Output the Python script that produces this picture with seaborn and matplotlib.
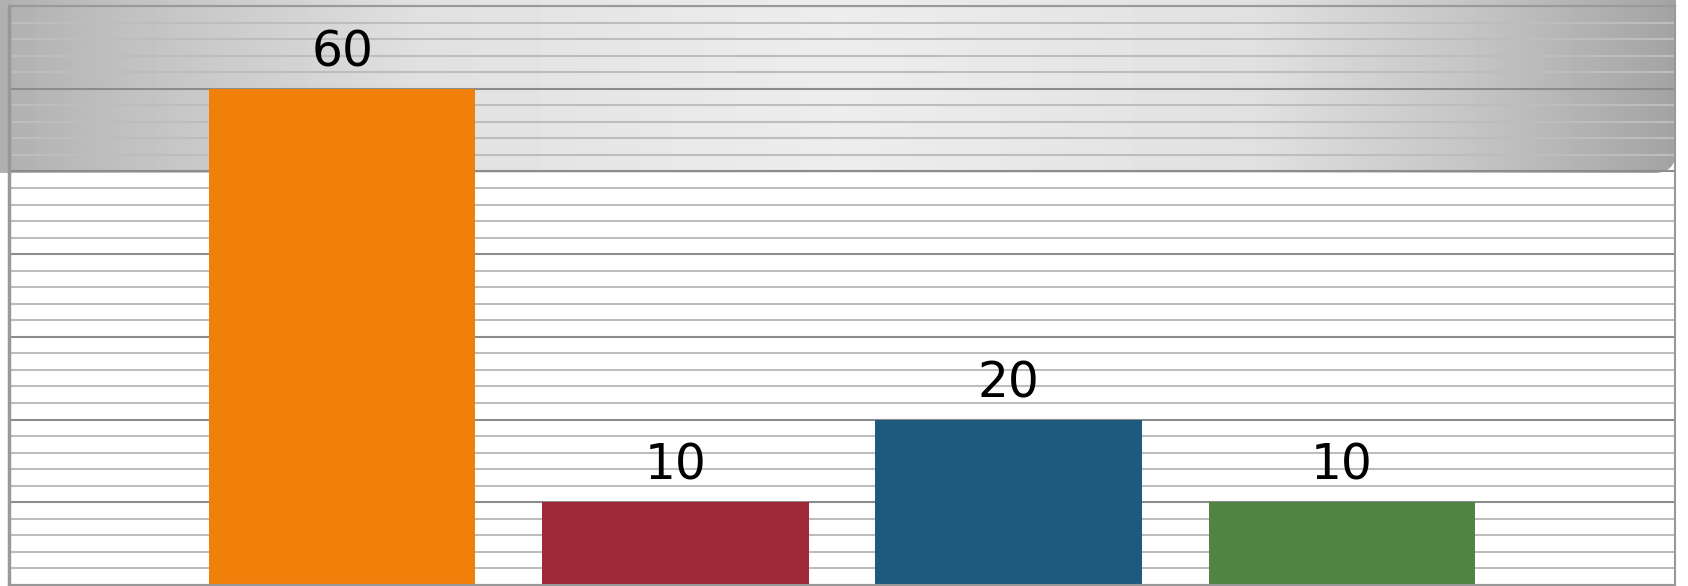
import numpy as np
import matplotlib.pyplot as plt
import seaborn as sns
from matplotlib.path import Path
from matplotlib.patches import PathPatch
from matplotlib.ticker import MultipleLocator

sns.set_theme(style='white')
plt.rcParams['font.family'] = ['DejaVu Sans']

# Data
categories = ['A', 'B', 'C', 'D']
values = [60, 10, 20, 10]
colors = ['#F0800A', '#9F2836', '#1E5A7D', '#4F8442']

W, H = 1688, 586
fig = plt.figure(figsize=(W / 100, H / 100), dpi=100)
fig.patch.set_facecolor('white')

# Background axes in pixel coordinates for the grey gradient band
bg = fig.add_axes([0, 0, 1, 1], zorder=0)
bg.set_xlim(0, W)
bg.set_ylim(H, 0)
bg.axis('off')

band_right, band_bottom, r = 1676, 173, 22
xs = np.linspace(0, 1, 400)
stops = [0.0, 0.08, 0.25, 0.5, 0.75, 0.88, 1.0]
levels = [0.69, 0.76, 0.88, 0.93, 0.88, 0.77, 0.64]
grad = np.interp(xs, stops, levels)
img = np.tile(grad, (10, 1))
im = bg.imshow(img, cmap='gray', vmin=0, vmax=1, aspect='auto',
               extent=(0, band_right, band_bottom, 0), interpolation='bilinear')

verts = [(0, 0), (band_right, 0), (band_right, band_bottom - r),
         (band_right, band_bottom), (band_right - r, band_bottom),
         (0, band_bottom), (0, 0)]
codes = [Path.MOVETO, Path.LINETO, Path.LINETO, Path.CURVE3, Path.CURVE3,
         Path.LINETO, Path.CLOSEPOLY]
clip = PathPatch(Path(verts, codes), transform=bg.transData,
                 facecolor='none', edgecolor='none')
bg.add_patch(clip)
im.set_clip_path(clip)

# Main chart
ax = fig.add_axes([9 / W, 1 / H, (1675 - 9) / W, (585 - 6) / H], zorder=1)
ax.set_facecolor('none')

sns.barplot(x=categories, y=values, hue=categories, palette=colors,
            legend=False, width=0.8, saturation=1, linewidth=0, ax=ax)

ax.set_xlim(-1, 4)
ax.set_ylim(0, 70)
ax.yaxis.set_major_locator(MultipleLocator(10))
ax.yaxis.set_minor_locator(MultipleLocator(2))
ax.grid(which='minor', axis='y', color='#bdbdbd', linewidth=1.5)
ax.grid(which='major', axis='y', color='#8c8c8c', linewidth=1.5)
ax.set_axisbelow(True)
ax.tick_params(which='both', left=False, bottom=False,
               labelleft=False, labelbottom=False)
ax.set_xlabel('')
ax.set_ylabel('')

for side, spine in ax.spines.items():
    spine.set_visible(True)
    spine.set_color('#999999')
    spine.set_linewidth(1.5)
ax.spines['left'].set_linewidth(2.5)

for cont in ax.containers:
    ax.bar_label(cont, fontsize=35, padding=9, color='black')

fig.savefig('out.png', dpi=100)
